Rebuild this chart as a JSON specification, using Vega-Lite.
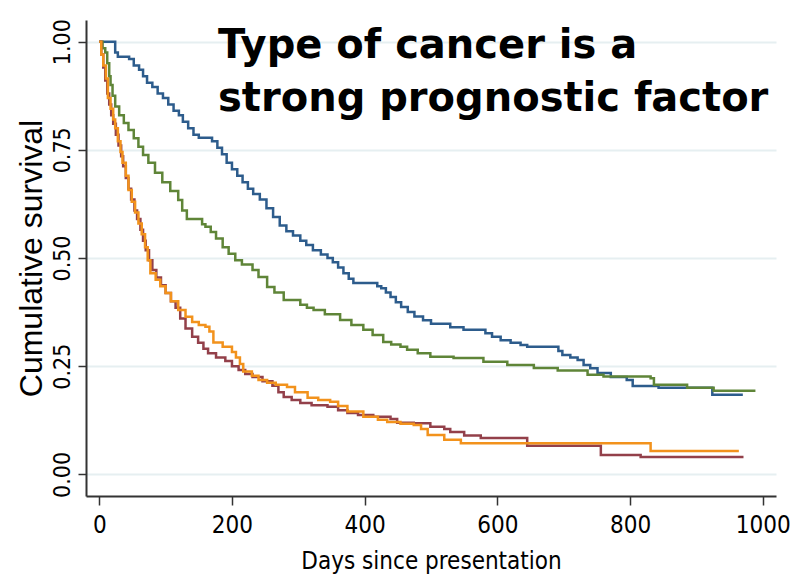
{
  "$schema": "https://vega.github.io/schema/vega-lite/v6.json",
  "width": 690,
  "height": 476,
  "autosize": {"type": "none"},
  "padding": {"left": 86, "top": 20, "right": 25, "bottom": 89},
  "background": "white",
  "config": {"view": {"stroke": null}},
  "datasets": {
    "curves": [
      {"g":"1","d":0,"s":1},{"g":"1","d":24,"s":0.975},{"g":"1","d":28,"s":0.965},{"g":"1","d":45,"s":0.96},{"g":"1","d":52,"s":0.945},{"g":"1","d":60,"s":0.935},{"g":"1","d":66,"s":0.92},{"g":"1","d":72,"s":0.905},{"g":"1","d":80,"s":0.895},{"g":"1","d":88,"s":0.88},{"g":"1","d":96,"s":0.87},{"g":"1","d":104,"s":0.855},{"g":"1","d":112,"s":0.84},{"g":"1","d":120,"s":0.83},{"g":"1","d":126,"s":0.815},{"g":"1","d":134,"s":0.8},{"g":"1","d":142,"s":0.785},{"g":"1","d":150,"s":0.778},{"g":"1","d":170,"s":0.77},{"g":"1","d":178,"s":0.755},{"g":"1","d":185,"s":0.74},{"g":"1","d":192,"s":0.72},{"g":"1","d":200,"s":0.705},{"g":"1","d":208,"s":0.69},{"g":"1","d":216,"s":0.675},{"g":"1","d":224,"s":0.66},{"g":"1","d":232,"s":0.648},{"g":"1","d":242,"s":0.635},{"g":"1","d":252,"s":0.615},{"g":"1","d":262,"s":0.595},{"g":"1","d":272,"s":0.575},{"g":"1","d":282,"s":0.562},{"g":"1","d":292,"s":0.552},{"g":"1","d":303,"s":0.54},{"g":"1","d":312,"s":0.53},{"g":"1","d":322,"s":0.518},{"g":"1","d":334,"s":0.508},{"g":"1","d":344,"s":0.5},{"g":"1","d":352,"s":0.49},{"g":"1","d":360,"s":0.478},{"g":"1","d":368,"s":0.465},{"g":"1","d":376,"s":0.452},{"g":"1","d":383,"s":0.442},{"g":"1","d":419,"s":0.435},{"g":"1","d":425,"s":0.43},{"g":"1","d":432,"s":0.42},{"g":"1","d":439,"s":0.41},{"g":"1","d":447,"s":0.398},{"g":"1","d":455,"s":0.387},{"g":"1","d":465,"s":0.375},{"g":"1","d":475,"s":0.365},{"g":"1","d":488,"s":0.356},{"g":"1","d":500,"s":0.348},{"g":"1","d":529,"s":0.34},{"g":"1","d":549,"s":0.334},{"g":"1","d":582,"s":0.326},{"g":"1","d":592,"s":0.318},{"g":"1","d":605,"s":0.31},{"g":"1","d":620,"s":0.304},{"g":"1","d":635,"s":0.299},{"g":"1","d":645,"s":0.295},{"g":"1","d":692,"s":0.285},{"g":"1","d":698,"s":0.276},{"g":"1","d":710,"s":0.27},{"g":"1","d":721,"s":0.264},{"g":"1","d":730,"s":0.253},{"g":"1","d":740,"s":0.245},{"g":"1","d":751,"s":0.234},{"g":"1","d":771,"s":0.225},{"g":"1","d":795,"s":0.218},{"g":"1","d":804,"s":0.204},{"g":"1","d":843,"s":0.2},{"g":"1","d":924,"s":0.184},{"g":"1","d":970,"s":0.184},

      {"g":"3","d":0,"s":1},{"g":"3","d":5,"s":0.985},{"g":"3","d":9,"s":0.975},{"g":"3","d":12,"s":0.95},{"g":"3","d":15,"s":0.92},{"g":"3","d":17,"s":0.9},{"g":"3","d":20,"s":0.875},{"g":"3","d":24,"s":0.85},{"g":"3","d":30,"s":0.83},{"g":"3","d":37,"s":0.812},{"g":"3","d":44,"s":0.796},{"g":"3","d":52,"s":0.777},{"g":"3","d":59,"s":0.757},{"g":"3","d":66,"s":0.738},{"g":"3","d":74,"s":0.72},{"g":"3","d":84,"s":0.697},{"g":"3","d":95,"s":0.675},{"g":"3","d":107,"s":0.655},{"g":"3","d":119,"s":0.634},{"g":"3","d":125,"s":0.61},{"g":"3","d":132,"s":0.59},{"g":"3","d":155,"s":0.578},{"g":"3","d":160,"s":0.572},{"g":"3","d":168,"s":0.56},{"g":"3","d":176,"s":0.545},{"g":"3","d":186,"s":0.525},{"g":"3","d":195,"s":0.51},{"g":"3","d":205,"s":0.495},{"g":"3","d":215,"s":0.485},{"g":"3","d":231,"s":0.472},{"g":"3","d":240,"s":0.456},{"g":"3","d":253,"s":0.433},{"g":"3","d":264,"s":0.42},{"g":"3","d":278,"s":0.403},{"g":"3","d":303,"s":0.392},{"g":"3","d":313,"s":0.385},{"g":"3","d":323,"s":0.38},{"g":"3","d":340,"s":0.37},{"g":"3","d":363,"s":0.357},{"g":"3","d":380,"s":0.345},{"g":"3","d":398,"s":0.334},{"g":"3","d":412,"s":0.322},{"g":"3","d":428,"s":0.306},{"g":"3","d":440,"s":0.3},{"g":"3","d":454,"s":0.295},{"g":"3","d":464,"s":0.288},{"g":"3","d":480,"s":0.28},{"g":"3","d":499,"s":0.272},{"g":"3","d":534,"s":0.269},{"g":"3","d":579,"s":0.26},{"g":"3","d":615,"s":0.253},{"g":"3","d":655,"s":0.246},{"g":"3","d":691,"s":0.24},{"g":"3","d":736,"s":0.23},{"g":"3","d":760,"s":0.226},{"g":"3","d":831,"s":0.222},{"g":"3","d":836,"s":0.207},{"g":"3","d":886,"s":0.2},{"g":"3","d":926,"s":0.193},{"g":"3","d":989,"s":0.193},

      {"g":"2","d":0,"s":1},{"g":"2","d":3,"s":0.97},{"g":"2","d":6,"s":0.94},{"g":"2","d":9,"s":0.91},{"g":"2","d":12,"s":0.88},{"g":"2","d":15,"s":0.855},{"g":"2","d":18,"s":0.83},{"g":"2","d":21,"s":0.81},{"g":"2","d":25,"s":0.785},{"g":"2","d":29,"s":0.76},{"g":"2","d":33,"s":0.735},{"g":"2","d":36,"s":0.712},{"g":"2","d":40,"s":0.685},{"g":"2","d":44,"s":0.66},{"g":"2","d":48,"s":0.635},{"g":"2","d":53,"s":0.61},{"g":"2","d":57,"s":0.59},{"g":"2","d":62,"s":0.565},{"g":"2","d":66,"s":0.54},{"g":"2","d":70,"s":0.518},{"g":"2","d":75,"s":0.495},{"g":"2","d":80,"s":0.472},{"g":"2","d":86,"s":0.455},{"g":"2","d":93,"s":0.437},{"g":"2","d":100,"s":0.419},{"g":"2","d":108,"s":0.4},{"g":"2","d":115,"s":0.385},{"g":"2","d":122,"s":0.36},{"g":"2","d":130,"s":0.337},{"g":"2","d":140,"s":0.318},{"g":"2","d":149,"s":0.304},{"g":"2","d":157,"s":0.29},{"g":"2","d":164,"s":0.28},{"g":"2","d":176,"s":0.27},{"g":"2","d":190,"s":0.262},{"g":"2","d":200,"s":0.25},{"g":"2","d":210,"s":0.241},{"g":"2","d":220,"s":0.232},{"g":"2","d":231,"s":0.225},{"g":"2","d":246,"s":0.215},{"g":"2","d":261,"s":0.205},{"g":"2","d":270,"s":0.19},{"g":"2","d":278,"s":0.179},{"g":"2","d":290,"s":0.172},{"g":"2","d":303,"s":0.165},{"g":"2","d":320,"s":0.16},{"g":"2","d":344,"s":0.156},{"g":"2","d":360,"s":0.148},{"g":"2","d":374,"s":0.142},{"g":"2","d":390,"s":0.137},{"g":"2","d":413,"s":0.133},{"g":"2","d":439,"s":0.128},{"g":"2","d":449,"s":0.119},{"g":"2","d":474,"s":0.118},{"g":"2","d":499,"s":0.11},{"g":"2","d":520,"s":0.105},{"g":"2","d":529,"s":0.098},{"g":"2","d":550,"s":0.09},{"g":"2","d":575,"s":0.084},{"g":"2","d":645,"s":0.066},{"g":"2","d":756,"s":0.045},{"g":"2","d":816,"s":0.04},{"g":"2","d":971,"s":0.04},

      {"g":"4","d":0,"s":1},{"g":"4","d":3,"s":0.97},{"g":"4","d":6,"s":0.945},{"g":"4","d":10,"s":0.915},{"g":"4","d":13,"s":0.87},{"g":"4","d":17,"s":0.845},{"g":"4","d":21,"s":0.82},{"g":"4","d":24,"s":0.8},{"g":"4","d":28,"s":0.77},{"g":"4","d":32,"s":0.745},{"g":"4","d":35,"s":0.72},{"g":"4","d":40,"s":0.69},{"g":"4","d":44,"s":0.657},{"g":"4","d":49,"s":0.63},{"g":"4","d":54,"s":0.605},{"g":"4","d":59,"s":0.58},{"g":"4","d":64,"s":0.555},{"g":"4","d":69,"s":0.525},{"g":"4","d":73,"s":0.495},{"g":"4","d":77,"s":0.465},{"g":"4","d":85,"s":0.45},{"g":"4","d":92,"s":0.435},{"g":"4","d":100,"s":0.419},{"g":"4","d":108,"s":0.4},{"g":"4","d":119,"s":0.38},{"g":"4","d":130,"s":0.364},{"g":"4","d":140,"s":0.352},{"g":"4","d":150,"s":0.345},{"g":"4","d":160,"s":0.341},{"g":"4","d":166,"s":0.33},{"g":"4","d":172,"s":0.305},{"g":"4","d":186,"s":0.295},{"g":"4","d":200,"s":0.283},{"g":"4","d":206,"s":0.27},{"g":"4","d":212,"s":0.255},{"g":"4","d":217,"s":0.238},{"g":"4","d":230,"s":0.228},{"g":"4","d":240,"s":0.218},{"g":"4","d":253,"s":0.212},{"g":"4","d":266,"s":0.207},{"g":"4","d":283,"s":0.202},{"g":"4","d":295,"s":0.19},{"g":"4","d":314,"s":0.177},{"g":"4","d":330,"s":0.172},{"g":"4","d":348,"s":0.168},{"g":"4","d":360,"s":0.158},{"g":"4","d":374,"s":0.145},{"g":"4","d":398,"s":0.133},{"g":"4","d":420,"s":0.126},{"g":"4","d":434,"s":0.121},{"g":"4","d":454,"s":0.117},{"g":"4","d":474,"s":0.114},{"g":"4","d":485,"s":0.105},{"g":"4","d":495,"s":0.091},{"g":"4","d":520,"s":0.08},{"g":"4","d":545,"s":0.072},{"g":"4","d":828,"s":0.072},{"g":"4","d":831,"s":0.054},{"g":"4","d":964,"s":0.054}
    ],
    "note": [{"text": "Type of cancer is a\nstrong prognostic factor"}]
  },
  "layer": [
    {
      "data": {"name": "curves"},
      "mark": {"type": "line", "interpolate": "step-after", "strokeWidth": 2.5},
      "encoding": {
        "x": {
          "field": "d", "type": "quantitative",
          "scale": {"domain": [-20, 1020], "nice": false, "zero": false},
          "axis": {
            "title": "Days since presentation",
            "values": [0, 200, 400, 600, 800, 1000],
            "format": "d",
            "grid": false,
            "domainColor": "#333333", "domainWidth": 2,
            "tickColor": "#333333", "tickWidth": 1.5, "tickSize": 9,
            "labelFont": "DejaVu Sans Condensed",
            "labelFontSize": 24, "labelColor": "black", "labelPadding": 8,
            "titleFont": "DejaVu Sans Condensed",
            "titleFontSize": 24, "titleFontWeight": "normal", "titleColor": "black", "titlePadding": 12
          }
        },
        "y": {
          "field": "s", "type": "quantitative",
          "scale": {"domain": [-0.05, 1.05], "nice": false, "zero": false},
          "axis": {
            "title": "Cumulative survival",
            "values": [0, 0.25, 0.5, 0.75, 1],
            "format": ".2f",
            "grid": true, "gridColor": "#e6eff1", "gridWidth": 2,
            "domainColor": "#333333", "domainWidth": 2,
            "tickColor": "#333333", "tickWidth": 1.5, "tickSize": 8,
            "labelAngle": -90, "labelAlign": "center", "labelBaseline": "bottom",
            "labelFont": "DejaVu Sans Condensed", "labelFontSize": 23, "labelColor": "black", "labelPadding": 4,
            "titleFont": "Liberation Sans", "titleFontSize": 32, "titleFontWeight": "normal", "titleColor": "black", "titlePadding": 3
          }
        },
        "color": {
          "field": "g", "type": "nominal",
          "scale": {"domain": ["1", "2", "3", "4"], "range": ["#2d5c8c", "#93404a", "#5f8538", "#f2921c"]},
          "legend": null
        }
      }
    },
    {
      "data": {"name": "note"},
      "mark": {"type": "text", "font": "DejaVu Sans", "fontWeight": "bold", "fontSize": 40, "align": "left", "baseline": "alphabetic", "lineBreak": "\n", "lineHeight": 53, "color": "black"},
      "encoding": {
        "x": {"datum": 179},
        "y": {"datum": 0.962},
        "text": {"field": "text"}
      }
    }
  ]
}
